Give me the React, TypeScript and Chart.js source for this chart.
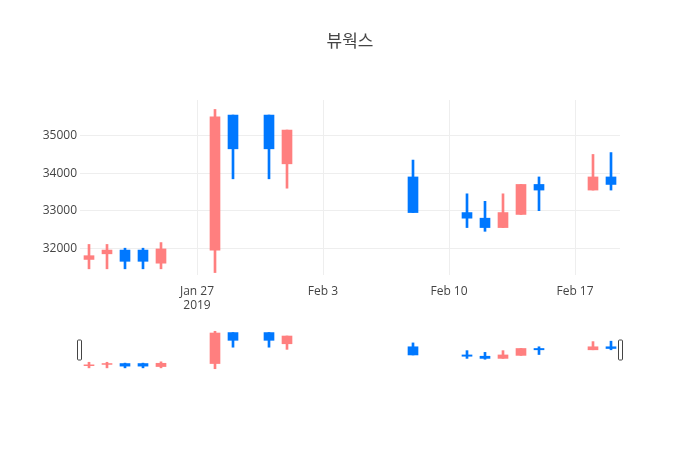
import React, { useEffect, useRef } from "react";
import { Chart, registerables } from "chart.js";

Chart.register(...registerables);

const titleText = "뷰웍스";
const dates = [
  "2019-01-21", "2019-01-22", "2019-01-23", "2019-01-24", "2019-01-25",
  "2019-01-28", "2019-01-29", "2019-01-31", "2019-02-01", "2019-02-08",
  "2019-02-11", "2019-02-12", "2019-02-13", "2019-02-14", "2019-02-15",
  "2019-02-18", "2019-02-19",
];
const openVals = [31700, 31850, 31950, 31950, 31600, 31950, 35550, 35550, 34250, 33900, 32950, 32800, 32550, 32900, 33700, 33550, 33900];
const highVals = [32100, 32100, 32000, 32000, 32150, 35700, 35550, 35550, 35150, 34350, 33450, 33250, 33450, 33700, 33900, 34500, 34550];
const lowVals = [31450, 31450, 31450, 31450, 31450, 31350, 33850, 33850, 33600, 32950, 32550, 32450, 32550, 32900, 33000, 33550, 33550];
const closeVals = [31800, 31950, 31650, 31650, 31980, 35500, 34650, 34650, 35150, 32950, 32800, 32550, 32950, 33700, 33550, 33900, 33700];

const xRange = ["2019-01-20T12:00:00Z", "2019-02-19T12:00:00Z"];
const xTickDates = ["2019-01-27", "2019-02-03", "2019-02-10", "2019-02-17"];
const xTickLabels: (string | string[])[] = [["Jan 27", "2019"], "Feb 3", "Feb 10", "Feb 17"];
const yRange = [31285, 35952];
const yTicks = [32000, 33000, 34000, 35000];
const sliderYRange = [31200, 35850];

const UP = "#FF7F7F";
const DOWN = "#0078FF";
const FONT = '"Open Sans", "Noto Sans CJK KR", sans-serif';

const toMs = (d: string) => new Date(d.length === 10 ? d + "T00:00:00Z" : d).getTime();

function buildDatasets(yAxisID: string) {
  const colors = dates.map((_, i) => (closeVals[i] >= openVals[i] ? UP : DOWN));
  const wick = dates.map((d, i) => ({ x: toMs(d), y: [lowVals[i], highVals[i]] }));
  const body = dates.map((d, i) => ({ x: toMs(d), y: [openVals[i], closeVals[i]] }));
  return [
    { data: body, backgroundColor: colors, borderWidth: 0, barThickness: 10, grouped: false, yAxisID },
    { data: wick, backgroundColor: colors, borderWidth: 0, barThickness: 2, grouped: false, yAxisID },
  ];
}

const handlesPlugin = {
  id: "handles",
  afterDraw(chart: any) {
    const { ctx, chartArea } = chart;
    const h = (chartArea.bottom - chartArea.top) / 2;
    const y = chartArea.top + h / 2;
    const drawHandle = (x: number) => {
      ctx.save();
      ctx.beginPath();
      const w = 4;
      const r = 1;
      ctx.moveTo(x + r, y);
      ctx.lineTo(x + w - r, y);
      ctx.quadraticCurveTo(x + w, y, x + w, y + r);
      ctx.lineTo(x + w, y + h - r);
      ctx.quadraticCurveTo(x + w, y + h, x + w - r, y + h);
      ctx.lineTo(x + r, y + h);
      ctx.quadraticCurveTo(x, y + h, x, y + h - r);
      ctx.lineTo(x, y + r);
      ctx.quadraticCurveTo(x, y, x + r, y);
      ctx.closePath();
      ctx.fillStyle = "#fff";
      ctx.fill();
      ctx.strokeStyle = "#444";
      ctx.lineWidth = 1;
      ctx.stroke();
      ctx.restore();
    };
    drawHandle(Math.round(chartArea.left) - 2.5);
    drawHandle(Math.round(chartArea.right) - 1.5);
  },
};

export default function App() {
  const mainRef = useRef<HTMLCanvasElement>(null);
  const sliderRef = useRef<HTMLCanvasElement>(null);

  useEffect(() => {
    const main = new Chart(mainRef.current!, {
      type: "bar",
      data: { datasets: buildDatasets("y") as any },
      options: {
        animation: false,
        responsive: false,
        layout: { padding: 0 },
        plugins: {
          legend: { display: false },
          tooltip: { enabled: false },
          title: {
            display: true,
            text: titleText,
            color: "#444",
            font: { family: FONT, size: 17, weight: "normal" },
            padding: { top: 32, bottom: 47.6 },
          },
        },
        scales: {
          x: {
            type: "linear",
            offset: false,
            min: toMs(xRange[0]),
            max: toMs(xRange[1]),
            afterBuildTicks: (scale: any) => {
              scale.ticks = xTickDates.map((d) => ({ value: toMs(d) }));
            },
            afterFit: (scale: any) => {
              scale.height = 175;
            },
            ticks: {
              autoSkip: false,
              maxRotation: 0,
              padding: 9,
              color: "#444",
              font: { family: FONT, size: 12 },
              callback: (_v: any, i: number) => xTickLabels[i],
            },
            grid: { color: "#eee", drawTicks: false, offset: false },
            border: { display: false },
          },
          y: {
            type: "linear",
            position: "left",
            min: yRange[0],
            max: yRange[1],
            afterBuildTicks: (scale: any) => {
              scale.ticks = yTicks.map((v) => ({ value: v }));
            },
            afterFit: (scale: any) => {
              scale.width = 80;
            },
            ticks: {
              padding: 3,
              color: "#444",
              font: { family: FONT, size: 12 },
              callback: (v: any) => String(v),
            },
            grid: { color: "#eee", drawTicks: false },
            border: { display: false },
          },
          yRight: {
            type: "linear",
            position: "right",
            min: yRange[0],
            max: yRange[1],
            ticks: { display: false },
            grid: { display: false, drawTicks: false },
            border: { display: false },
            afterFit: (scale: any) => {
              scale.width = 80;
            },
          },
        },
      } as any,
    });

    const slider = new Chart(sliderRef.current!, {
      type: "bar",
      data: { datasets: buildDatasets("y") as any },
      options: {
        animation: false,
        responsive: false,
        layout: { padding: { left: 80, right: 80, top: 330, bottom: 80 } },
        plugins: {
          legend: { display: false },
          tooltip: { enabled: false },
          title: { display: false },
        },
        scales: {
          x: { type: "linear", display: false, offset: false, min: toMs(xRange[0]), max: toMs(xRange[1]) },
          y: { type: "linear", display: false, min: sliderYRange[0], max: sliderYRange[1] },
        },
      } as any,
      plugins: [handlesPlugin],
    });

    return () => {
      main.destroy();
      slider.destroy();
    };
  }, []);

  return (
    <div style={{ position: "absolute", left: 0, top: 0, width: 700, height: 450, background: "#fff" }}>
      <canvas ref={mainRef} width={700} height={450} style={{ position: "absolute", left: 0, top: 0 }} />
      <canvas ref={sliderRef} width={700} height={450} style={{ position: "absolute", left: 0, top: 0 }} />
    </div>
  );
}
